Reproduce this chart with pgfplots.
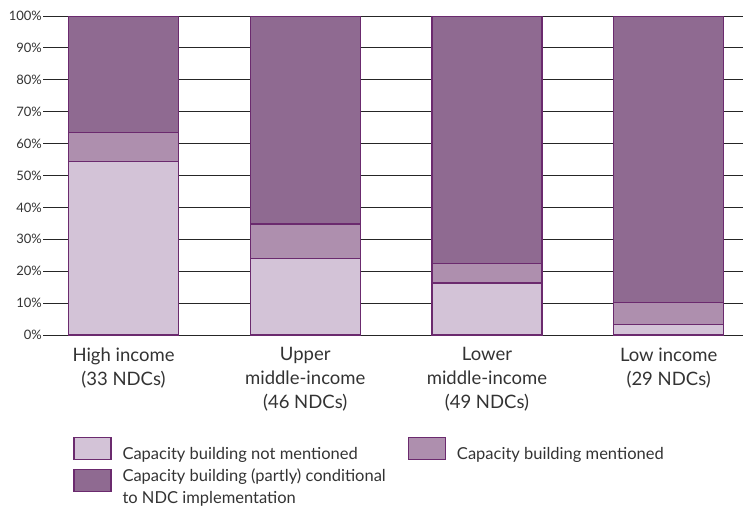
\documentclass[border=0pt]{standalone}
\usepackage{fontspec}
\setmainfont{Lato}
\usepackage{pgfplots}
\pgfplotsset{compat=1.18}
\definecolor{notm}{HTML}{D3C3D7}
\definecolor{ment}{HTML}{AE8FAE}
\definecolor{cond}{HTML}{8F6A91}
\definecolor{edge}{HTML}{6B2A6E}
\definecolor{txt}{HTML}{333333}

\begin{document}
\begin{tikzpicture}[x=1pt,y=1pt]
\useasboundingbox (0,0) rectangle (743,-509);
\begin{axis}[
    at={(43pt,-335pt)}, anchor=south west,
    scale only axis, width=700pt, height=319pt,
    ybar stacked, bar width=110pt,
    xmin=-0.443, xmax=3.409, ymin=0, ymax=100,
    xtick={0,1,2,3},
    xticklabels={{High income\\(33 NDCs)},{Upper\\middle-income\\(46 NDCs)},{Lower\\middle-income\\(49 NDCs)},{Low income\\(29 NDCs)}},
    x tick label style={font=\fontsize{18.5}{24}\selectfont, text=txt, align=center, yshift=-9pt},
    ytick={0,10,...,100},
    yticklabel={\pgfmathprintnumber{\tick}\%},
    y tick label style={font=\fontsize{13}{15}\selectfont, text=txt, inner sep=1pt},
    /pgf/number format/assume math mode=true,
    axis line style={draw=none}, major tick length=0pt,
    ymajorgrids, grid style={black!85, line width=0.9pt},
    legend columns=2,
    legend style={at={(0.043,-0.32)}, anchor=north west, draw=none, fill=none,
        inner sep=0pt, font=\fontsize{16.5}{22}\selectfont, text=txt,
        cells={anchor=west, align=left},
        /tikz/every odd column/.append style={column sep=9pt},
        /tikz/every even column/.append style={column sep=20pt}, row sep=3pt},
    legend image code/.code={\draw[#1, line width=1.2pt] (0pt,-5.5pt) rectangle (37pt,16.5pt);},
]
\addplot[fill=notm, draw=edge, line width=1.2pt] coordinates {(0,54.5) (1,23.9) (2,16.3) (3,3.4)};
\addplot[fill=ment, draw=edge, line width=1.2pt] coordinates {(0,9.1) (1,10.9) (2,6.1) (3,6.9)};
\addplot[fill=cond, draw=edge, line width=1.2pt] coordinates {(0,36.4) (1,65.2) (2,77.6) (3,89.7)};
\legend{Capacity building not mentioned, Capacity building mentioned, {Capacity building (partly) conditional\\to NDC implementation}}
\end{axis}
\end{tikzpicture}
\end{document}
